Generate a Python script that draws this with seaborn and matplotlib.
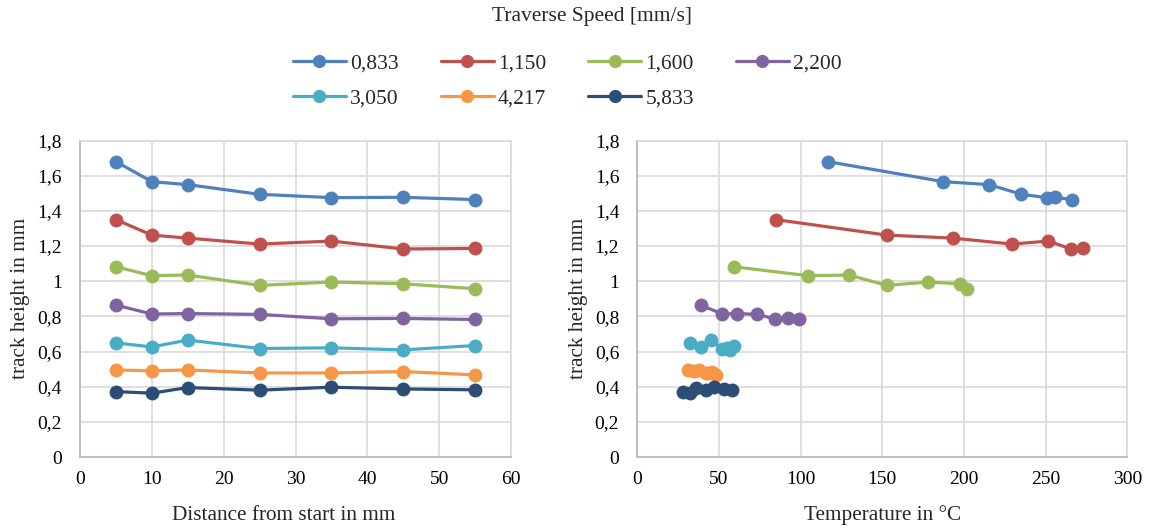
import numpy as np
import pandas as pd
import matplotlib
matplotlib.use("Agg")
import matplotlib.pyplot as plt
import seaborn as sns
from matplotlib.ticker import FuncFormatter, MultipleLocator

# ---- data ----
speeds = ["0,833", "1,150", "1,600", "2,200", "3,050", "4,217", "5,833"]
colors = ["#4F81BD", "#C0504D", "#9BBB59", "#8064A2", "#4BACC6", "#F79646", "#2C4D75"]
distance = [5, 10, 15, 25, 35, 45, 55]

h_0833 = [1.680, 1.566, 1.549, 1.494, 1.475, 1.477, 1.464]
h_1150 = [1.350, 1.262, 1.245, 1.211, 1.228, 1.183, 1.186]
h_1600 = [1.082, 1.031, 1.035, 0.976, 0.995, 0.985, 0.957]
h_2200 = [0.864, 0.813, 0.816, 0.811, 0.786, 0.788, 0.782]
h_3050 = [0.649, 0.626, 0.665, 0.617, 0.621, 0.609, 0.634]
h_4217 = [0.495, 0.490, 0.495, 0.478, 0.478, 0.486, 0.467]
h_5833 = [0.372, 0.363, 0.395, 0.380, 0.397, 0.387, 0.382]

t_0833 = [116.5, 187.4, 215.4, 235.2, 250.7, 255.8, 266.2]
t_1150 = [84.9, 152.7, 193.1, 229.3, 251.7, 265.6, 272.8]
t_1600 = [59.1, 104.7, 129.6, 152.7, 178.2, 197.6, 201.7]
t_2200 = [38.8, 52.1, 61.3, 73.2, 84.4, 92.5, 99.0]
t_3050 = [32.0, 38.8, 44.9, 52.0, 55.0, 57.0, 59.0]
t_4217 = [31.0, 35.0, 38.0, 42.0, 44.0, 46.0, 48.0]
t_5833 = [28.0, 32.0, 36.0, 42.0, 47.0, 53.0, 58.0]

heights = [h_0833, h_1150, h_1600, h_2200, h_3050, h_4217, h_5833]
temps = [t_0833, t_1150, t_1600, t_2200, t_3050, t_4217, t_5833]

rows = []
for s, hs, ts in zip(speeds, heights, temps):
    for d, h, t in zip(distance, hs, ts):
        rows.append({"speed": s, "distance": d, "height": h, "temp": t})
df = pd.DataFrame(rows)
palette = dict(zip(speeds, colors))

# ---- style ----
sns.set_theme(style="white")
plt.rcParams["font.family"] = ["Liberation Serif", "DejaVu Serif"]

W, H = 1152, 528
fig = plt.figure(figsize=(W / 100, H / 100), dpi=100)
ax1 = fig.add_axes([80 / W, 71 / H, 431 / W, 316.5 / H])
ax2 = fig.add_axes([637.3 / W, 71 / H, 490 / W, 316.5 / H])

LW = 2.3
MS = 10
line_kw = dict(marker="o", markersize=MS, markeredgewidth=0, linewidth=LW,
               estimator=None, legend=False)

sns.lineplot(data=df, x="distance", y="height", hue="speed", palette=palette,
             hue_order=speeds, sort=False, ax=ax1, **line_kw)
sns.lineplot(data=df, x="temp", y="height", hue="speed", palette=palette,
             hue_order=speeds, sort=False, ax=ax2, **line_kw)


def comma_fmt(v, pos):
    s = f"{v:.1f}"
    if s.endswith(".0"):
        s = s[:-2]
    return s.replace(".", ",")


FS_TICK = 14
FS_LABEL = 15.3
for ax, xmax, xstep, xlabel, xlab_x, ylab_off in [
        (ax1, 60, 10, "Distance from start in mm", (284 - 80) / 431, -60 / 431),
        (ax2, 300, 50, "Temperature in °C", 0.5, -59 / 490)]:
    ax.set_xlim(0, xmax)
    ax.set_ylim(0, 1.8)
    ax.xaxis.set_major_locator(MultipleLocator(xstep))
    ax.yaxis.set_major_locator(MultipleLocator(0.2))
    ax.yaxis.set_major_formatter(FuncFormatter(comma_fmt))
    ax.grid(True, color="#D9D9D9", linewidth=1.2)
    ax.set_axisbelow(True)
    for side in ["top", "right"]:
        ax.spines[side].set_color("#D9D9D9")
        ax.spines[side].set_linewidth(1.2)
    for side in ["left", "bottom"]:
        ax.spines[side].set_color("#BFBFBF")
        ax.spines[side].set_linewidth(1.5)
    ax.tick_params(axis="y", which="both", length=0, labelsize=FS_TICK,
                   colors="black", pad=13)
    ax.tick_params(axis="x", which="both", length=0, labelsize=FS_TICK,
                   colors="black", pad=10)
    ax.set_xlabel(xlabel, fontsize=FS_LABEL)
    ax.set_ylabel("track height in mm", fontsize=FS_LABEL)
    ax.xaxis.set_label_coords(xlab_x, (457 - 515) / 316.5)
    ax.xaxis.label.set_va("center")
    ax.yaxis.set_label_coords(ylab_off, 0.5)
    ax.yaxis.label.set_va("center")

# ---- legend ----
handles = [plt.Line2D([], [], color=c, marker="o", markersize=9.5,
                      markeredgewidth=0, linewidth=LW) for c in colors]
order = [0, 4, 1, 5, 2, 6, 3]
leg = fig.legend([handles[i] for i in order], [speeds[i] for i in order],
                 loc="upper left", bbox_to_anchor=(292.7 / W, 1 - 53 / H), ncol=4,
                 frameon=False, fontsize=15.5, handlelength=2.46,
                 columnspacing=1.95, handletextpad=0.2, labelspacing=0.73,
                 borderpad=0, borderaxespad=0)
fig.text(592 / W, 1 - 17 / H, "Traverse Speed [mm/s]", ha="center", va="center",
         fontsize=15.5)

fig.savefig("out.png", dpi=100)
